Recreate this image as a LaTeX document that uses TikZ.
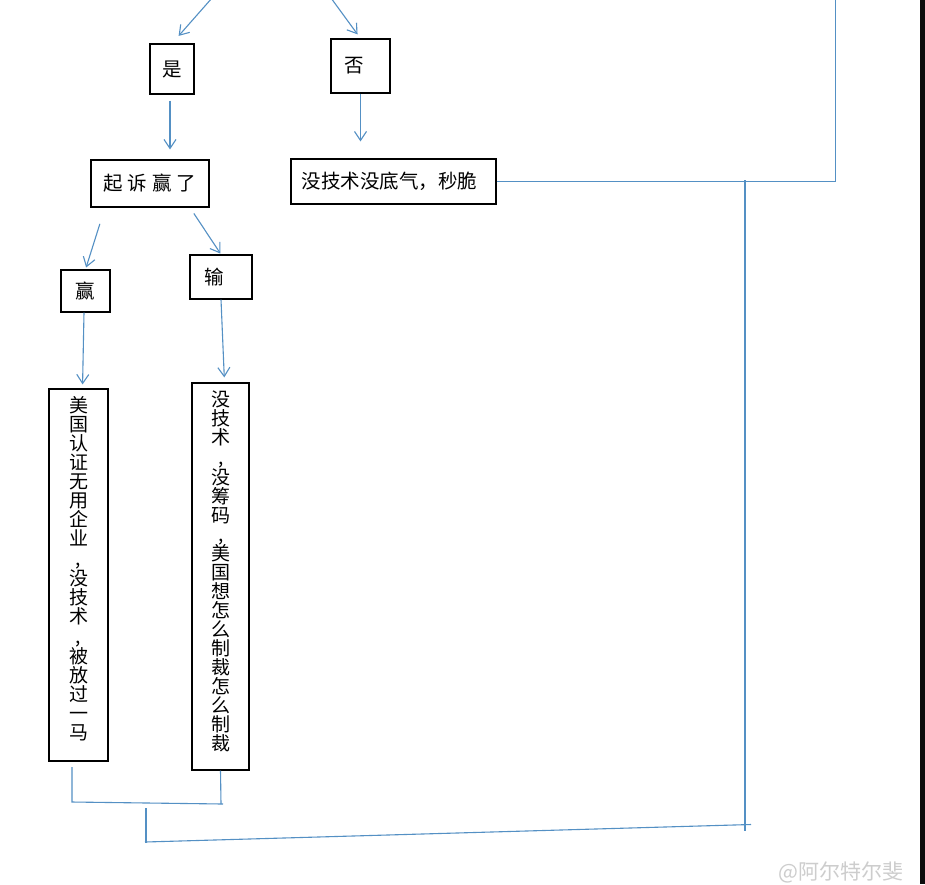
\documentclass[tikz,border=0pt]{standalone}
\usepackage{fontspec}
\newfontfamily\cjk{Noto Sans CJK SC}
\usetikzlibrary{arrows.meta}
\definecolor{conn}{RGB}{84,144,196}
\definecolor{wm}{RGB}{205,205,205}
\newcommand\colfont{\cjk\fontsize{19}{19}\selectfont\lineskiplimit=-20pt\relax}
\tikzset{
  boxnode/.style={draw=black, line width=1.2pt, inner sep=0pt, font=\cjk\fontsize{19.5}{20}\selectfont, align=center},
  coltext/.style={inner sep=0pt, align=center, font=\colfont},
  wire/.style={draw=conn, line width=1.1pt},
  arr/.style={wire, -{Straight Barb[length=9pt,width=12pt,line width=1.1pt]}},
}
\begin{document}
\begin{tikzpicture}[x=1pt,y=-1pt]
\useasboundingbox (0,0) rectangle (925,884);
\fill[white] (0,0) rectangle (925,884);
\fill[black!95] (920,0) rectangle (925,884);

% boxes
\node[boxnode, minimum width=44pt, minimum height=50pt] (shi) at (172,69) {是};
\node[boxnode, minimum width=59pt, minimum height=54pt] (fou) at (360.5,66) {\raisebox{3pt}{否}\hspace{12pt}};
\node[boxnode, minimum width=118pt, minimum height=47pt] (qisu) at (150,183.5) {起\hspace{5pt}诉\hspace{5pt}赢\hspace{5pt}了};
\node[boxnode, minimum width=205pt, minimum height=45pt] (miao) at (393.5,181.5) {没技术没底气，秒脆\hspace{8pt}};
\node[boxnode, minimum width=49pt, minimum height=42pt] (ying) at (85.5,291) {赢};
\node[boxnode, minimum width=62pt, minimum height=44pt] (shu) at (221,277) {输\hspace{14pt}};
\node[boxnode, minimum width=59pt, minimum height=372pt] (L) at (78.5,575) {};
\node[boxnode, minimum width=57pt, minimum height=387pt] (R) at (220.5,576.5) {};

\node[coltext, anchor=north] (Ltxt) at (78.5,396) {美\\国\\认\\证\\无\\用\\企\\业\\[1pt],\\[1pt]没\\技\\术\\[1pt],\\[1pt]被\\放\\过\\一\\马};
\node[coltext, anchor=north] (Rtxt) at (221,391) {没\\技\\术\\[1pt],\\[1pt]没\\筹\\码\\,\\美\\国\\想\\怎\\么\\制\\裁\\怎\\么\\制\\裁};

% free ends
\coordinate (t1) at (212,-2);
\coordinate (t2) at (331,-2);
\coordinate (tr) at (835.5,0);
\coordinate (v1) at (745,180);
\coordinate (v2) at (745,831);
\coordinate (b1) at (72,767);
\coordinate (b2) at (72,802);
\coordinate (b3) at (223,804);
\coordinate (b4) at (221,804);
\coordinate (c1) at (146,808);
\coordinate (c2) at (146,843);
\coordinate (c3) at (145,842);
\coordinate (c4) at (751,824.5);

% arrows
\draw[arr, shorten >=10pt] (t1) -- (shi.north);
\draw[arr, shorten >=5pt] (t2) -- (fou.north);
\draw[arr, shorten <=6pt, shorten >=10pt] ([xshift=-2pt]shi.south) -- ([xshift=-2pt]shi.south |- qisu.north);
\draw[arr, shorten >=17pt] (fou.south) -- (fou.south |- miao.north);
\draw[arr, shorten <=17pt, shorten >=2pt] ([xshift=-45pt]qisu.south) -- (ying.north);
\draw[arr, shorten <=7pt, shorten >=1pt] ([xshift=40pt]qisu.south) -- (shu.north);
\draw[arr, shorten >=4pt] ([xshift=-1.5pt]ying.south) -- ([xshift=4pt]L.north);
\draw[arr, shorten >=5pt] (shu.south) -- ([xshift=4pt]R.north);

% plain connectors
\draw[wire] (miao.east) -| (tr);
\draw[wire] (v1) -- (v2);
\draw[wire] (b1) -- (b2) -- (b3);
\draw[wire] (R.south) -- (b4);
\draw[wire] (c1) -- (c2);
\draw[wire] (c3) -- (c4);

% watermark
\node[anchor=west, inner sep=0pt, text=wm, font=\cjk\fontsize{21}{21}\selectfont] (wmk) at (778,872) {@阿尔特尔斐};
\end{tikzpicture}
\end{document}
